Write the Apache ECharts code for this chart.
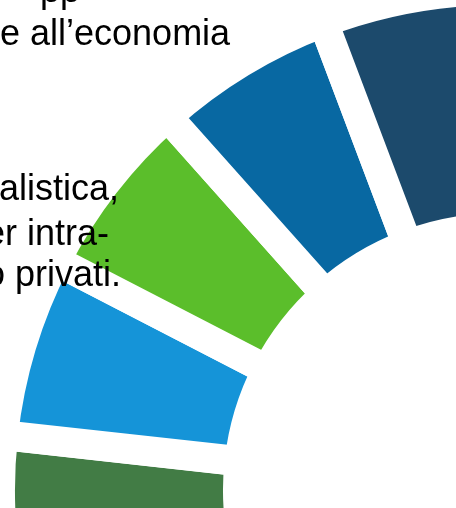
<!DOCTYPE html>
<html>
<head>
<meta charset="utf-8">
<script src="https://cdn.jsdelivr.net/npm/echarts@6/dist/echarts.min.js"></script>
<style>
  html, body { margin: 0; padding: 0; background: #ffffff; }
  #chart { width: 456px; height: 508px; }
</style>
</head>
<body>
<div id="chart"></div>
<script>
// ---- data ----
const segmentNames = ['Segmento 1', 'Segmento 2', 'Segmento 3', 'Segmento 4', 'Segmento 5'];
const segmentValues = [1, 1, 1, 1, 1];
const hiddenRestValue = 12.14;   // remainder of the wheel, outside the visible crop
const textLines = ['pp', 'e all\u2019economia', 'alistica,', 'er intra-', 'o privati.'];

// ---- styles ----
const segmentColors = ['#427c45', '#1594d8', '#5bbe2b', '#0868a2', '#1c4a6c'];
const textPos = [[40, 10], [0, 53], [-1, 208], [-15, 253], [-15, 294]];

const chart = echarts.init(document.getElementById('chart'), null, { renderer: 'canvas' });

const pieData = segmentNames.map((n, i) => ({
  name: n,
  value: segmentValues[i],
  itemStyle: { color: segmentColors[i] }
}));
pieData.push({
  name: 'rest',
  value: hiddenRestValue,
  itemStyle: { color: 'rgba(0,0,0,0)', borderWidth: 0 }
});

chart.setOption({
  animation: false,
  backgroundColor: '#ffffff',
  series: [{
    type: 'pie',
    center: [500, 490],
    radius: [262, 500],
    startAngle: 194.7,
    clockwise: true,
    silent: true,
    label: { show: false },
    labelLine: { show: false },
    emphasis: { disabled: true },
    itemStyle: { borderColor: '#ffffff', borderWidth: 30, borderJoin: 'miter' },
    data: pieData
  }],
  graphic: textLines.map((t, i) => ({
    type: 'text',
    z: 100,
    x: textPos[i][0],
    y: textPos[i][1],
    style: {
      text: t,
      font: '36px "Liberation Sans", Arial, sans-serif',
      fill: '#000000',
      verticalAlign: 'bottom'
    }
  }))
});
</script>
</body>
</html>
